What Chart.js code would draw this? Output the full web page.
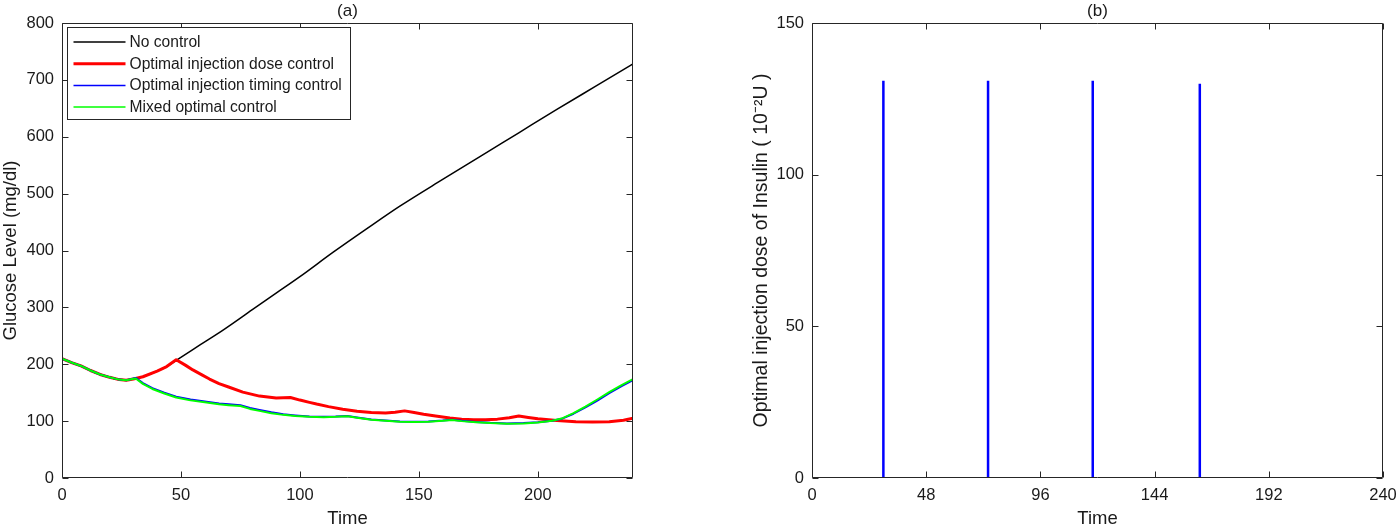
<!DOCTYPE html>
<html>
<head>
<meta charset="utf-8">
<script src="https://cdn.jsdelivr.net/npm/chart.js@4.4.1/dist/chart.umd.min.js"></script>
<style>
  html, body { margin: 0; padding: 0; background: #fff; }
  #wrap { position: relative; width: 1396px; height: 530px; }
  #left { position: absolute; left: 0; top: 0; }
  #right { position: absolute; left: 698px; top: 0; }
</style>
</head>
<body>
<div id="wrap">
  <canvas id="left" width="698" height="530"></canvas>
  <canvas id="right" width="698" height="530"></canvas>
</div>
<script>
// ---- panel (a): glucose level ----
const noControlTime = [0, 4, 8, 12, 16, 20, 24, 27, 30, 34, 40, 44, 48, 58, 68, 80, 90, 100, 114, 128, 142, 160, 176, 192, 208, 224, 240];
const noControlGlucose = [210, 203, 197, 189, 182, 177, 173, 172, 174, 178, 188, 196, 207, 234, 261, 296, 325, 354, 397, 438, 478, 525, 566, 607, 648, 688, 728];

const doseTime = [0, 4, 8, 12, 16, 20, 24, 27, 30, 34, 40, 44, 48, 52, 55, 59, 62, 66, 70, 76, 83, 90, 96, 100, 104, 107, 112, 118, 124, 130, 136, 140, 144, 148, 152, 157, 163, 168, 173, 178, 183, 188, 192, 196, 200, 208, 216, 223, 230, 236, 240];
const doseGlucose = [210, 203, 197, 189, 182, 177, 173, 172, 174, 178, 188, 196, 208, 198, 190, 181, 174, 166, 160, 151, 144, 140.5, 141.5, 137, 133, 130, 125.5, 121, 117.5, 115, 114.5, 115.5, 118, 115, 112, 109, 105.5, 103.5, 102.5, 102.5, 103.5, 106, 109, 106.5, 104, 101, 99, 98.5, 99, 101.5, 105];

const timingTime = [0, 4, 8, 12, 16, 20, 24, 27, 30, 31, 34, 38, 43, 48, 54, 60, 66, 70, 75, 79, 83, 88, 93, 98, 104, 110, 115, 120, 124, 130, 136, 142, 148, 154, 160, 164, 168, 174, 180, 187, 194, 200, 206, 210, 215, 220, 225, 230, 235, 240];
const timingGlucose = [210, 203, 197, 189, 182, 177, 173, 172, 175, 176, 167, 158, 150, 143, 138, 134.5, 131, 129.5, 128, 123, 119.5, 115.5, 112, 110, 108, 107.5, 108, 109, 106.5, 103, 101, 99.5, 99, 99.5, 101, 102.5, 100.5, 98.5, 97, 96, 96.5, 98, 100.5, 104, 113, 124, 136, 149, 161, 172];

const mixedTime = [0, 4, 8, 12, 16, 20, 24, 27, 30, 31, 34, 38, 43, 48, 54, 60, 66, 70, 75, 79, 83, 88, 93, 98, 104, 110, 115, 120, 124, 130, 136, 142, 148, 154, 160, 164, 168, 174, 180, 187, 194, 200, 206, 210, 215, 220, 225, 230, 235, 240];
const mixedGlucose = [210, 203, 197, 189, 182, 177, 173, 172, 174.5, 175, 165.5, 156.5, 148.5, 141.5, 136.5, 133, 129.5, 128, 126.5, 121.5, 118, 114, 111, 109, 107.5, 107, 107.5, 108.5, 106, 102.5, 100.5, 99, 98.5, 99, 100.5, 102, 100, 98, 96.5, 95.5, 96, 97.5, 100.5, 104.5, 114, 125.5, 138, 151, 163, 174];

// ---- panel (b): insulin injections ----
const injectionTime = [30, 74, 118, 163];
const injectionDose = [131, 131, 131, 130];

const FONT = "'Liberation Sans', Arial, Helvetica, sans-serif";
const TEXT = '#1a1a1a';
const AXIS = '#262626';

function pts(xs, ys) { return xs.map((x, i) => ({ x: x, y: ys[i] })); }

// MATLAB style box with inward ticks on all four sides
const boxPlugin = {
  id: 'box',
  afterDatasetsDraw(chart) {
    const { ctx, chartArea: a, scales } = chart;
    const L = Math.round(a.left) + 0.5, R = Math.round(a.right) - 0.5;
    const T = Math.round(a.top) + 0.5, B = Math.round(a.bottom) - 0.5;
    ctx.save();
    ctx.strokeStyle = AXIS;
    ctx.lineWidth = 1;
    ctx.beginPath();
    ctx.rect(L, T, R - L, B - T);
    scales.x.ticks.forEach(t => {
      const p = Math.round(scales.x.getPixelForValue(t.value)) + 0.5;
      ctx.moveTo(p, B); ctx.lineTo(p, B - 6);
      ctx.moveTo(p, T); ctx.lineTo(p, T + 6);
    });
    scales.y.ticks.forEach(t => {
      const p = Math.round(scales.y.getPixelForValue(t.value)) + 0.5;
      ctx.moveTo(L, p); ctx.lineTo(L + 6, p);
      ctx.moveTo(R, p); ctx.lineTo(R - 6, p);
    });
    ctx.stroke();
    // panel title
    const pt = chart.options.plugins.box.title;
    ctx.fillStyle = TEXT;
    ctx.font = '17px ' + FONT;
    ctx.textAlign = 'center';
    ctx.textBaseline = 'middle';
    ctx.fillText(pt, (a.left + a.right) / 2, a.top - 12);
    ctx.restore();
  }
};

// legend box inside the axes, top-left
const legendBox = {
  id: 'legendBox',
  afterDraw(chart) {
    const opts = chart.options.plugins.legendBox;
    if (!opts || !opts.show) return;
    const { ctx, chartArea: a } = chart;
    const x0 = Math.round(a.left) + 5.5, y0 = Math.round(a.top) + 4.5;
    const w = 283, h = 92, rowH = 21.7;
    ctx.save();
    ctx.fillStyle = '#fff';
    ctx.fillRect(x0, y0, w, h);
    ctx.strokeStyle = AXIS;
    ctx.lineWidth = 1;
    ctx.strokeRect(x0, y0, w, h);
    ctx.font = '15.6px ' + FONT;
    ctx.textAlign = 'left';
    ctx.textBaseline = 'middle';
    chart.data.datasets.forEach((ds, i) => {
      const y = y0 + 14.5 + i * rowH;
      ctx.strokeStyle = ds.borderColor;
      ctx.lineWidth = ds.legendWidth;
      ctx.beginPath();
      ctx.moveTo(x0 + 6, y); ctx.lineTo(x0 + 58, y);
      ctx.stroke();
      ctx.fillStyle = TEXT;
      ctx.fillText(ds.label, x0 + 62, y + 0.5);
    });
    ctx.restore();
  }
};

function axisCommon(title, fixedSize, horizontal, titleSize) {
  return {
    type: 'linear',
    grid: { display: false, drawTicks: false },
    border: { display: false },
    ticks: { color: TEXT, font: { family: FONT, size: 16.5 }, padding: 8 },
    title: { display: true, text: title, color: TEXT, font: { family: FONT, size: titleSize || 18.5 }, padding: 0 },
    afterFit(scale) {
      if (horizontal) {
        scale.height = fixedSize;
        scale.paddingLeft = 0;
        scale.paddingRight = 0;
      } else {
        scale.width = fixedSize;
      }
    }
  };
}

const leftX = axisCommon('Time', 52, true);
leftX.min = 0; leftX.max = 240;
leftX.ticks.stepSize = 50; leftX.ticks.includeBounds = false;
const leftY = axisCommon('Glucose Level (mg/dl)', 62, false);
leftY.min = 0; leftY.max = 800; leftY.ticks.stepSize = 100;

new Chart(document.getElementById('left'), {
  type: 'line',
  data: {
    datasets: [
      { label: 'No control', data: pts(noControlTime, noControlGlucose), borderColor: '#000000', borderWidth: 1.5, legendWidth: 1.5, order: 4, cubicInterpolationMode: 'monotone' },
      { label: 'Optimal injection dose control', data: pts(doseTime, doseGlucose), borderColor: '#ff0000', borderWidth: 3, legendWidth: 3, order: 3 },
      { label: 'Optimal injection timing control', data: pts(timingTime, timingGlucose), borderColor: '#0000ff', borderWidth: 2, legendWidth: 1.5, order: 2 },
      { label: 'Mixed optimal control', data: pts(mixedTime, mixedGlucose), borderColor: '#00ff00', borderWidth: 2, legendWidth: 1.5, order: 1 }
    ]
  },
  options: {
    responsive: false,
    animation: false,
    layout: { padding: { left: 0, right: 65, top: 23, bottom: 0 } },
    elements: { point: { radius: 0 }, line: { tension: 0, borderJoinStyle: 'round' } },
    scales: { x: leftX, y: leftY },
    plugins: {
      legend: { display: false },
      tooltip: { enabled: false },
      box: { title: '(a)' },
      legendBox: { show: true }
    }
  },
  plugins: [boxPlugin, legendBox]
});

const rightX = axisCommon('Time', 52, true);
rightX.min = 0; rightX.max = 240; rightX.ticks.stepSize = 48;
const rightY = axisCommon('Optimal injection dose of Insulin ( 10\u207B\u00B2U )', 62, false, 19.5);
rightY.min = 0; rightY.max = 150; rightY.ticks.stepSize = 50;

const spikes = [];
injectionTime.forEach((t, i) => {
  spikes.push({ x: t, y: 0 }, { x: t, y: injectionDose[i] }, { x: t, y: null });
});

new Chart(document.getElementById('right'), {
  type: 'line',
  data: {
    datasets: [
      { label: 'Insulin dose', data: spikes, borderColor: '#0000ff', borderWidth: 2.5, spanGaps: false }
    ]
  },
  options: {
    responsive: false,
    animation: false,
    layout: { padding: { left: 52, right: 13, top: 23, bottom: 0 } },
    elements: { point: { radius: 0 }, line: { tension: 0 } },
    scales: { x: rightX, y: rightY },
    plugins: {
      legend: { display: false },
      tooltip: { enabled: false },
      box: { title: '(b)' },
      legendBox: { show: false }
    }
  },
  plugins: [boxPlugin, legendBox]
});
</script>
</body>
</html>
